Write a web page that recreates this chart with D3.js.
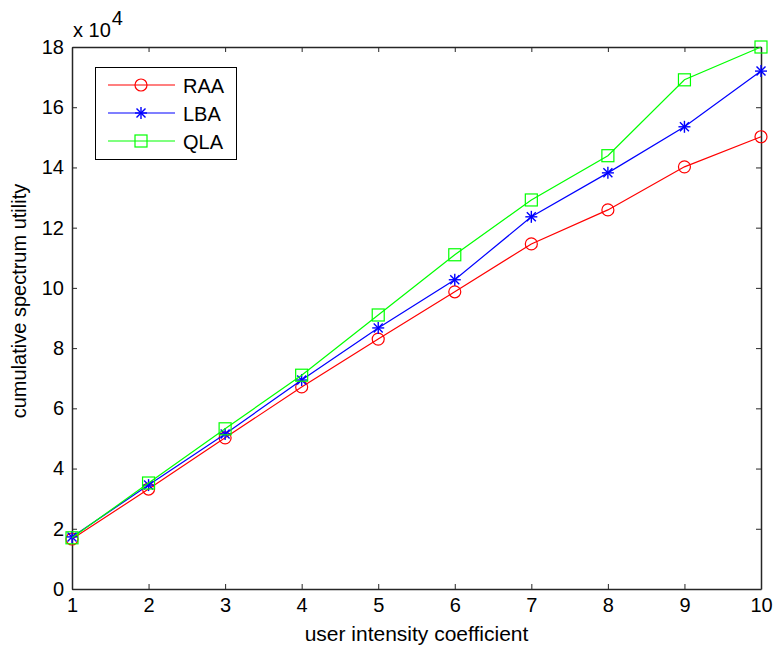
<!DOCTYPE html>
<html>
<head>
<meta charset="utf-8">
<script src="https://cdn.jsdelivr.net/npm/d3@7"></script>
<style>
  body { margin: 0; background: #fff; }
  text { font-family: "Liberation Sans", Arial, sans-serif; fill: #000; }
</style>
</head>
<body>
<div id="chart"></div>
<script>
var xValues = [1, 2, 3, 4, 5, 6, 7, 8, 9, 10];
var raa = [1.66, 3.32, 5.02, 6.71, 8.3, 9.87, 11.46, 12.59, 14.02, 15.02];
var lba = [1.73, 3.45, 5.15, 6.94, 8.67, 10.27, 12.36, 13.82, 15.35, 17.2];
var qla = [1.7, 3.52, 5.32, 7.1, 9.1, 11.1, 12.92, 14.39, 16.91, 18.0];
var yTicks = [0, 2, 4, 6, 8, 10, 12, 14, 16, 18];
var seriesNames = ["RAA", "LBA", "QLA"];
var seriesColors = ["#ff0000", "#0000ff", "#00ff00"];
var seriesMarkers = ["circle", "star", "square"];
var seriesData = [raa, lba, qla];

var width = 773, height = 650;
var margin = { left: 72, right: 12, top: 47, bottom: 61 };

var svg = d3.select("#chart")
    .append("svg")
    .attr("width", width)
    .attr("height", height);

var x = d3.scaleLinear().domain([1, 10]).range([margin.left, width - margin.right]);
var y = d3.scaleLinear().domain([0, 18]).range([height - margin.bottom, margin.top]);

// ticks on all four sides, pointing inward
svg.append("g")
    .attr("transform", "translate(0," + y(0) + ")")
    .call(d3.axisBottom(x).tickValues(xValues).tickSizeInner(-5).tickSizeOuter(0).tickPadding(9))
    .call(function(g) { g.selectAll("text").style("font-size", "20px"); });
svg.append("g")
    .attr("transform", "translate(0," + y(18) + ")")
    .call(d3.axisTop(x).tickValues(xValues).tickSizeInner(-5).tickSizeOuter(0).tickFormat(""));
svg.append("g")
    .attr("transform", "translate(" + x(1) + ",0)")
    .call(d3.axisLeft(y).tickValues(yTicks).tickSizeInner(-5).tickSizeOuter(0).tickPadding(8))
    .call(function(g) { g.selectAll("text").style("font-size", "20px"); });
svg.append("g")
    .attr("transform", "translate(" + x(10) + ",0)")
    .call(d3.axisRight(y).tickValues(yTicks).tickSizeInner(-5).tickSizeOuter(0).tickFormat(""));

svg.selectAll(".domain").attr("stroke", "#262626").attr("stroke-width", 1.5);
svg.selectAll(".tick line").attr("stroke", "#262626");
svg.selectAll(".tick text").attr("fill", "#000").style("font-family", "Liberation Sans, Arial, sans-serif");

// exponent label
var expo = svg.append("text").attr("x", x(1) + 1).attr("y", 37).style("font-size", "20px");
expo.append("tspan").text("x 10");
expo.append("tspan").attr("dy", -12).attr("dx", 1).text("4");

svg.append("text")
    .attr("x", (x(1) + x(10)) / 2)
    .attr("y", 641)
    .attr("text-anchor", "middle")
    .style("font-size", "21px")
    .text("user intensity coefficient");

svg.append("text")
    .attr("transform", "translate(26,301) rotate(-90)")
    .attr("text-anchor", "middle")
    .style("font-size", "20px")
    .text("cumulative spectrum utility");

var line = d3.line()
    .x(function(d, i) { return x(xValues[i]); })
    .y(function(d) { return y(d); });

function drawMarker(g, type, color, cx, cy) {
    if (type === "circle") {
        g.append("circle").attr("cx", cx).attr("cy", cy).attr("r", 6)
            .attr("fill", "none").attr("stroke", color).attr("stroke-width", 1.2);
    } else if (type === "square") {
        g.append("rect").attr("x", cx - 6).attr("y", cy - 6).attr("width", 12).attr("height", 12)
            .attr("fill", "none").attr("stroke", color).attr("stroke-width", 1.2);
    } else {
        var r = 6, d = 4.5;
        var segs = [[-r, 0, r, 0], [0, -r, 0, r], [-d, -d, d, d], [-d, d, d, -d]];
        segs.forEach(function(s) {
            g.append("line")
                .attr("x1", cx + s[0]).attr("y1", cy + s[1])
                .attr("x2", cx + s[2]).attr("y2", cy + s[3])
                .attr("stroke", color).attr("stroke-width", 1.4);
        });
    }
}

seriesData.forEach(function(vals, k) {
    var g = svg.append("g");
    g.append("path")
        .datum(vals)
        .attr("d", line)
        .attr("fill", "none")
        .attr("stroke", seriesColors[k])
        .attr("stroke-width", 1.2);
    vals.forEach(function(v, i) {
        drawMarker(g, seriesMarkers[k], seriesColors[k], x(xValues[i]), y(v));
    });
});

// legend
var lg = svg.append("g");
lg.append("rect")
    .attr("x", 95.5).attr("y", 67.5).attr("width", 141).attr("height", 92)
    .attr("fill", "#fff").attr("stroke", "#000").attr("stroke-width", 1);
seriesNames.forEach(function(name, k) {
    var ly = 85 + k * 28;
    lg.append("line")
        .attr("x1", 108).attr("x2", 175).attr("y1", ly).attr("y2", ly)
        .attr("stroke", seriesColors[k]).attr("stroke-width", 1.2);
    drawMarker(lg, seriesMarkers[k], seriesColors[k], 141, ly);
    lg.append("text")
        .attr("x", 183).attr("y", ly + 8)
        .style("font-size", "20px")
        .text(name);
});
</script>
</body>
</html>
